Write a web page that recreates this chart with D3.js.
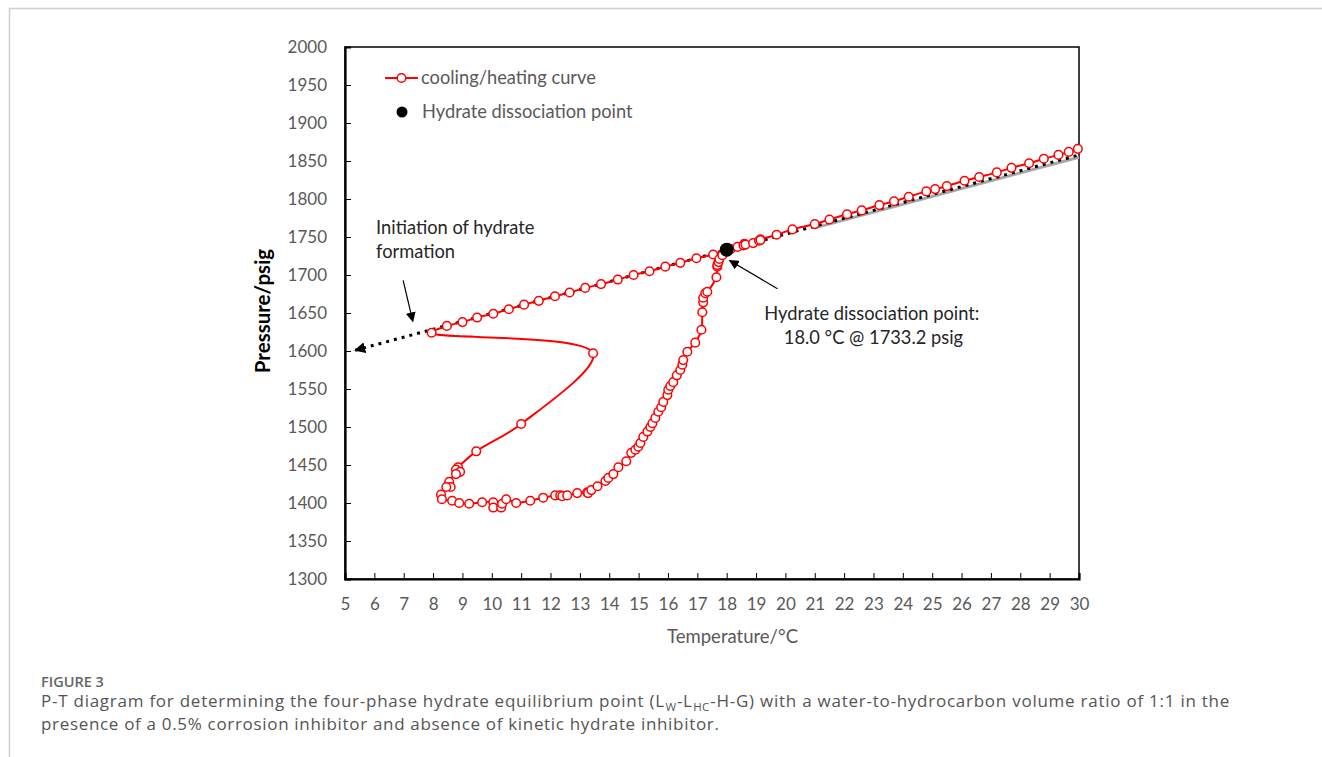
<!DOCTYPE html>
<html>
<head>
<meta charset="utf-8">
<script src="https://cdn.jsdelivr.net/npm/d3@7/dist/d3.min.js"></script>
<style>
  html, body { margin: 0; padding: 0; background: #fff; }
  svg { display: block; }
</style>
</head>
<body>
<svg id="chart" width="1322" height="757"></svg>
<script>
// Temperature (°C) and pressure (psig) along the cooling/heating run, in recorded order
const tempC = [
  29.96, 29.65, 29.3, 28.8, 28.3, 27.7, 27.2, 26.6, 26.1, 25.5, 25.1, 24.8, 24.2, 23.7, 23.2,
  22.6, 22.1, 21.5, 21.0, 20.24, 19.7, 19.15, 18.6, 18.05, 17.54, 16.97, 16.42, 15.91, 15.37,
  14.83, 14.29, 13.72, 13.18, 12.65, 12.15, 11.6, 11.1, 10.58, 10.05, 9.5, 9.0, 8.47, 7.95,
  13.45, 11.0, 9.47, 8.85, 8.78, 8.92, 8.78, 8.55, 8.6, 8.45, 8.27, 8.3, 8.65, 8.89, 9.23,
  9.67, 10.05, 10.05, 10.32, 10.35, 10.49, 10.83, 11.31, 11.75, 12.16, 12.33, 12.4, 12.57,
  12.91, 13.25, 13.28, 13.39, 13.6, 13.87, 13.97, 14.14, 14.31, 14.58, 14.75, 14.89, 14.99,
  15.06, 15.16, 15.3, 15.4, 15.47, 15.57, 15.67, 15.77, 15.84, 15.98, 16.01, 16.08, 16.18,
  16.3, 16.42, 16.49, 16.52, 16.66, 16.93, 17.14, 17.17, 17.2, 17.2, 17.27, 17.34, 17.65,
  17.68, 17.68, 17.72, 17.75, 17.85, 18.0, 18.13, 18.37, 18.57, 18.64, 18.9, 19.1, 19.15
];
const pressurePsig = [
  1866, 1862, 1858, 1853, 1847, 1841, 1835, 1829, 1824, 1817, 1813, 1810, 1803, 1797, 1792,
  1785, 1780, 1773, 1767, 1760, 1753, 1747, 1741, 1735, 1727, 1722, 1716, 1711, 1705,
  1700, 1694, 1688, 1683, 1677, 1672, 1666, 1661, 1655, 1649, 1644, 1638, 1633, 1624,
  1597, 1504, 1468, 1447, 1444, 1441, 1438, 1428, 1421, 1421, 1411, 1405, 1403, 1400, 1399,
  1401, 1401, 1394, 1394, 1399, 1405, 1400, 1403, 1407, 1410, 1410, 1409, 1410,
  1413, 1414, 1413, 1417, 1422, 1429, 1433, 1438, 1447, 1455, 1466, 1470, 1474,
  1479, 1487, 1494, 1500, 1505, 1512, 1520, 1526, 1533, 1542, 1549, 1554, 1559,
  1568, 1575, 1582, 1588, 1599, 1611, 1628, 1651, 1664, 1670, 1676, 1678, 1697,
  1711, 1713, 1717, 1721, 1726, 1731, 1734, 1737, 1739, 1740, 1742, 1745, 1746
];

// Hydrate dissociation point
const dissocT = [18.0];
const dissocP = [1733.2];

// Equilibrium (dotted) line and the grey fit beneath it
const eqLineT = [5.35, 30.0];
const eqLineP = [1601, 1858];
const fitLineT = [21.0, 30.0];
const fitLineP = [1762, 1855];

// Axis ticks
const xTicks = d3.range(5, 31, 1);
const yTicks = d3.range(1300, 2001, 50);

// Annotation arrows (data units): [from T, from P, to T, to P]
const arrowInitiation = [6.98, 1693, 7.31, 1639];
const arrowDissociation = [19.73, 1682, 18.1, 1719];

const svg = d3.select("#chart");
const margin = { left: 345, right: 1322 - 1079, top: 47, bottom: 757 - 579 };
const W = 1322, H = 757;

const x = d3.scaleLinear().domain([5, 30]).range([margin.left, W - margin.right]);
const y = d3.scaleLinear().domain([1300, 2000]).range([H - margin.bottom, margin.top]);

const chartFont = "Lato, 'Open Sans', sans-serif";
const grey = "#595959";

svg.append("rect").attr("width", W).attr("height", H).attr("fill", "#fff");

// page frame
svg.append("path")
  .attr("d", "M9.5,757 V8.5 H1322")
  .attr("fill", "none").attr("stroke", "#cfcfcf").attr("stroke-width", 1.5);

const defs = svg.append("defs");
defs.append("marker")
  .attr("id", "arrowHead")
  .attr("viewBox", "0 0 10 10").attr("refX", 9).attr("refY", 5)
  .attr("markerWidth", 10).attr("markerHeight", 10)
  .attr("markerUnits", "userSpaceOnUse")
  .attr("orient", "auto")
  .append("path").attr("d", "M0,0 L10,5 L0,10 Z").attr("fill", "#000");
defs.append("marker")
  .attr("id", "arrowStart")
  .attr("viewBox", "0 0 10 10").attr("refX", 9).attr("refY", 5)
  .attr("markerWidth", 11).attr("markerHeight", 11)
  .attr("markerUnits", "userSpaceOnUse")
  .attr("orient", "auto-start-reverse")
  .append("path").attr("d", "M0,0 L10,5 L0,10 Z").attr("fill", "#000");

// plot frame
svg.append("rect")
  .attr("x", x(5)).attr("y", y(2000))
  .attr("width", x(30) - x(5)).attr("height", y(1300) - y(2000))
  .attr("fill", "none").attr("stroke", "#000").attr("stroke-width", 1.5);

// axes
const xAxis = svg.append("g")
  .attr("transform", `translate(0,${y(1300)})`)
  .call(d3.axisBottom(x).tickValues(xTicks).tickSize(-6).tickPadding(19).tickFormat(d3.format("d")));
const yAxis = svg.append("g")
  .attr("transform", `translate(${x(5)},0)`)
  .call(d3.axisLeft(y).tickValues(yTicks).tickSize(-6).tickPadding(18).tickFormat(d3.format("d")));

[xAxis, yAxis].forEach(g => {
  g.select(".domain").attr("stroke", "#000").attr("stroke-width", 2.2);
  g.selectAll(".tick line").attr("stroke", "#000").attr("stroke-width", 1);
  g.selectAll(".tick text").attr("fill", grey)
    .style("font-family", chartFont).style("font-size", "17px");
});
// end ticks sit on the frame
xAxis.selectAll(".tick").filter(d => d === 5 || d === 30).select("line").remove();
yAxis.selectAll(".tick").filter(d => d === 1300 || d === 2000).select("line").remove();

// axis titles
svg.append("text")
  .attr("x", x(18.2)).attr("y", 643)
  .attr("text-anchor", "middle").attr("fill", grey)
  .style("font-family", chartFont).style("font-size", "18.5px")
  .text("Temperature/°C");
svg.append("text")
  .attr("transform", `translate(270,${(y(1300) + y(2000)) / 2 - 2}) rotate(-90)`)
  .attr("text-anchor", "middle").attr("fill", "#000")
  .style("font-family", chartFont).style("font-size", "20.5px").style("font-weight", "bold")
  .text("Pressure/psig");

// grey fit and dotted equilibrium line
const line2 = (ts, ps) => d3.line().x(i => x(ts[i])).y(i => y(ps[i]))(d3.range(ts.length));
svg.append("path")
  .attr("d", line2(fitLineT, fitLineP))
  .attr("fill", "none").attr("stroke", "#a6a6a6").attr("stroke-width", 3);
svg.append("path")
  .attr("d", line2(eqLineT, eqLineP))
  .attr("fill", "none").attr("stroke", "#000").attr("stroke-width", 3)
  .attr("stroke-dasharray", "3,5")
  .attr("marker-start", "url(#arrowStart)");

// cooling/heating curve
const idx = d3.range(tempC.length);
const red = "#ff0000";
svg.append("path")
  .attr("d", d3.line().curve(d3.curveCatmullRom.alpha(0.5))
    .x(i => x(tempC[i])).y(i => y(pressurePsig[i]))(idx))
  .attr("fill", "none").attr("stroke", red).attr("stroke-width", 2);
svg.append("g").selectAll("circle")
  .data(idx).join("circle")
  .attr("cx", i => x(tempC[i])).attr("cy", i => y(pressurePsig[i]))
  .attr("r", 4.3)
  .attr("fill", "#fff").attr("stroke", red).attr("stroke-width", 1.5);

// dissociation point
svg.append("g").selectAll("circle")
  .data(d3.range(dissocT.length)).join("circle")
  .attr("cx", i => x(dissocT[i])).attr("cy", i => y(dissocP[i]))
  .attr("r", 7).attr("fill", "#000");

// annotation arrows
[arrowInitiation, arrowDissociation].forEach(a => {
  svg.append("line")
    .attr("x1", x(a[0])).attr("y1", y(a[1]))
    .attr("x2", x(a[2])).attr("y2", y(a[3]))
    .attr("stroke", "#000").attr("stroke-width", 1.2)
    .attr("marker-end", "url(#arrowHead)");
});

// annotation text
const annot = (tx, py, str, anchor) => svg.append("text")
  .attr("x", x(tx)).attr("y", y(py))
  .attr("text-anchor", anchor || "start").attr("fill", "#262626")
  .style("font-family", chartFont).style("font-size", "18.3px")
  .text(str);
annot(6.06, 1754, "Initiation of hydrate");
annot(6.06, 1722, "formation");
annot(19.28, 1641, "Hydrate dissociation point:");
annot(23.0, 1609, "18.0 °C @ 1733.2 psig", "middle");

// legend
const legend = svg.append("g");
legend.append("line")
  .attr("x1", 385).attr("x2", 418).attr("y1", 78).attr("y2", 78)
  .attr("stroke", red).attr("stroke-width", 2);
legend.append("circle")
  .attr("cx", 401.5).attr("cy", 78).attr("r", 4.3)
  .attr("fill", "#fff").attr("stroke", red).attr("stroke-width", 1.5);
legend.append("circle")
  .attr("cx", 402).attr("cy", 112).attr("r", 5.5).attr("fill", "#000");
legend.append("text")
  .attr("x", 421).attr("y", 84).attr("fill", grey)
  .style("font-family", chartFont).style("font-size", "18.3px")
  .text("cooling/heating curve");
legend.append("text")
  .attr("x", 422).attr("y", 118).attr("fill", grey)
  .style("font-family", chartFont).style("font-size", "18.3px")
  .text("Hydrate dissociation point");

// caption
const capFont = "'Open Sans', sans-serif";
svg.append("text")
  .attr("x", 41).attr("y", 687).attr("fill", "#666")
  .style("font-family", capFont).style("font-size", "14.5px").style("font-weight", 600)
  .text("FIGURE 3");

// first caption line, laid out piece by piece so the subscripts sit in place
const capPieces = [
  { t: "P-T diagram for determining the four-phase hydrate equilibrium point (L", sub: false },
  { t: "W", sub: true },
  { t: "-L", sub: false },
  { t: "HC", sub: true },
  { t: "-H-G) with a water-to-hydrocarbon volume ratio of 1:1 in the", sub: false }
];
let cx = 41;
capPieces.forEach(p => {
  const t = svg.append("text")
    .attr("x", cx).attr("y", p.sub ? 711 : 707).attr("fill", "#555")
    .style("font-family", capFont)
    .style("font-size", p.sub ? "11.5px" : "17px")
    .style("letter-spacing", p.sub ? "0.3px" : "0.75px")
    .text(p.t);
  cx += t.node().getComputedTextLength() + 0.6;
});
svg.append("text")
  .attr("x", 41).attr("y", 730).attr("fill", "#555")
  .style("font-family", capFont).style("font-size", "17px").style("letter-spacing", "0.68px")
  .text("presence of a 0.5% corrosion inhibitor and absence of kinetic hydrate inhibitor.");
</script>
</body>
</html>
